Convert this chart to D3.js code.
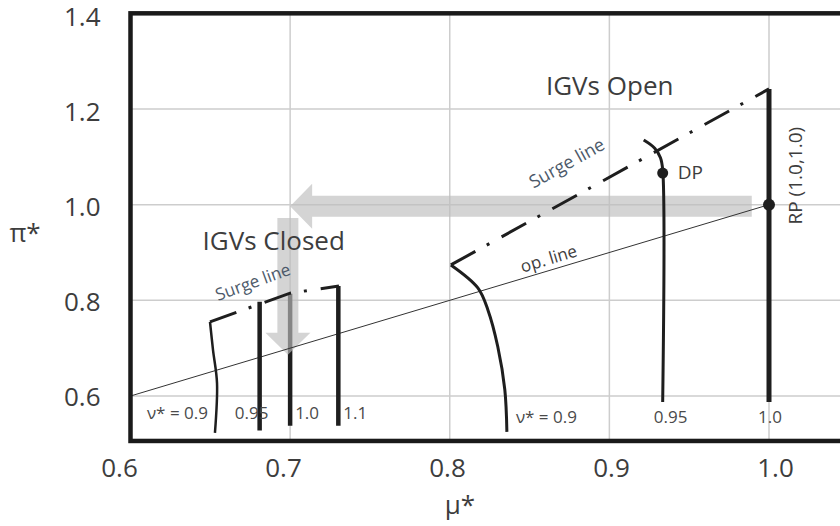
<!DOCTYPE html>
<html>
<head>
<meta charset="utf-8">
<script src="https://cdn.jsdelivr.net/npm/d3@7"></script>
<style>
  body { margin: 0; background: #fff; }
  svg { display: block; font-family: "Open Sans", sans-serif; }
</style>
</head>
<body>
<script>
// axis ticks
var muTicks = [0.6, 0.7, 0.8, 0.9, 1.0];
var piTicks = [0.6, 0.8, 1.0, 1.2, 1.4];

// operating line, from origin corner to the rated point
var opLine = [[0.6, 0.6], [1.0, 1.0]];

// IGVs open: surge line and speed lines (mu*, pi*)
var surgeOpen = [[0.8007, 0.874], [1.0, 1.242]];
var openSpeed090 = [[0.8007, 0.874], [0.8176, 0.826], [0.8239, 0.780], [0.8301, 0.703], [0.8345, 0.613], [0.8358, 0.525]];
var openSpeed095 = [[0.9215, 1.135], [0.9284, 1.118], [0.932, 1.098], [0.9334, 1.073], [0.9334, 0.5875]];
var openSpeed100 = [[1.0, 1.242], [1.0, 0.5875]];
var openLabels = ["ν* = 0.9", "0.95", "1.0"];

// IGVs closed
var surgeClosed = [[0.6498, 0.755], [0.70, 0.815], [0.7306, 0.830]];
var closedSpeed090 = [[0.6498, 0.755], [0.6517, 0.696], [0.6542, 0.627], [0.6529, 0.523]];
var closedSpeed095 = [[0.6809, 0.797], [0.6809, 0.528]];
var closedSpeed100 = [[0.70, 0.814], [0.70, 0.538]];
var closedSpeed110 = [[0.7302, 0.830], [0.7302, 0.538]];
var closedLabels = ["ν* = 0.9", "0.95", "1.0", "1.1"];

// design point and rated point
var designPoint = [0.9334, 1.066];
var ratedPoint = [1.0, 1.0];

// big grey arrows: rated point -> IGVs closed
var arrowLeft = [[0.9892, 0.9966], [0.70, 0.9966]];
var arrowDown = [[0.6986, 0.972], [0.6986, 0.686]];

var W = 840, H = 526, ink = "#3d3d3d";

var svg = d3.select("body").append("svg")
    .attr("width", W)
    .attr("height", H);

var x = d3.scaleLinear().domain([0.6, 1.0]).range([130.5, 769]);
var y = d3.scaleLinear().domain([0.6, 1.2]).range([396, 109]);
// the printed tick labels sit a little off the grid
var xLab = d3.scaleLinear().domain([0.6, 1.0]).range([119, 775]);
var yLab = d3.scaleLinear().domain([0.6, 1.4]).range([397, 17]);

var xMax = 1.06, yMin = 0.506;

var line = d3.line()
    .x(function(d) { return x(d[0]); })
    .y(function(d) { return y(d[1]); })
    .curve(d3.curveCatmullRom.alpha(0.5));

function drawLine(data, width, dash) {
    var p = svg.append("path")
        .attr("d", line(data))
        .attr("fill", "none")
        .attr("stroke", "#1e1e1e")
        .attr("stroke-width", width);
    if (dash) p.attr("stroke-dasharray", dash);
    return p;
}

// arrow polygon, shaft + head, from a to b in pixel space
function arrowPath(a, b) {
    var x0 = x(a[0]), y0 = y(a[1]), x1 = x(b[0]), y1 = y(b[1]);
    var len = Math.hypot(x1 - x0, y1 - y0);
    var ux = (x1 - x0) / len, uy = (y1 - y0) / len;
    var nx = -uy, ny = ux;
    var sw = 10.5, hw = 22.5, hl = 22;
    var bx = x1 - ux * hl, by = y1 - uy * hl;
    var pts = [
        [x0 + nx * sw, y0 + ny * sw],
        [bx + nx * sw, by + ny * sw],
        [bx + nx * hw, by + ny * hw],
        [x1, y1],
        [bx - nx * hw, by - ny * hw],
        [bx - nx * sw, by - ny * sw],
        [x0 - nx * sw, y0 - ny * sw]
    ];
    return "M" + pts.map(function(p) { return p.join(","); }).join("L") + "Z";
}

// grid
svg.append("g").selectAll("line")
    .data(muTicks.slice(1))
    .enter().append("line")
    .attr("x1", function(d) { return x(d); })
    .attr("x2", function(d) { return x(d); })
    .attr("y1", y(1.4))
    .attr("y2", y(yMin))
    .attr("stroke", "#cdcdcd")
    .attr("stroke-width", 1.5);

svg.append("g").selectAll("line")
    .data(piTicks.slice(0, -1))
    .enter().append("line")
    .attr("x1", x(0.6))
    .attr("x2", x(xMax))
    .attr("y1", function(d) { return y(d); })
    .attr("y2", function(d) { return y(d); })
    .attr("stroke", "#cdcdcd")
    .attr("stroke-width", 1.5);

// horizontal arrow sits under the curves
svg.append("path")
    .attr("d", arrowPath(arrowLeft[0], arrowLeft[1]))
    .attr("fill", "#bdbdbd")
    .attr("opacity", 0.65);

drawLine(closedSpeed100, 4.5);

svg.append("path")
    .attr("d", arrowPath(arrowDown[0], arrowDown[1]))
    .attr("fill", "#bdbdbd")
    .attr("opacity", 0.65);

// operating line
svg.append("path")
    .attr("d", line(opLine))
    .attr("fill", "none")
    .attr("stroke", "#333")
    .attr("stroke-width", 1);

// speed lines
drawLine(openSpeed090, 3);
drawLine(openSpeed095, 3);
drawLine(openSpeed100, 5);
drawLine(closedSpeed090, 2.5);
drawLine(closedSpeed095, 4.5);
drawLine(closedSpeed110, 4.5);

// surge lines, dash-dot
drawLine(surgeOpen, 3, "28,13,3,14");
svg.append("path")
    .attr("d", d3.line().x(function(d) { return x(d[0]); }).y(function(d) { return y(d[1]); })(surgeClosed))
    .attr("fill", "none")
    .attr("stroke", "#1e1e1e")
    .attr("stroke-width", 3)
    .attr("stroke-dasharray", "28,13,3,14");

// points
svg.append("circle")
    .attr("cx", x(designPoint[0]))
    .attr("cy", y(designPoint[1]))
    .attr("r", 5.5)
    .attr("fill", "#1e1e1e");
svg.append("circle")
    .attr("cx", x(ratedPoint[0]))
    .attr("cy", y(ratedPoint[1]))
    .attr("r", 6)
    .attr("fill", "#1e1e1e");

// frame
svg.append("rect")
    .attr("x", x(0.6))
    .attr("y", y(1.4))
    .attr("width", x(xMax) - x(0.6))
    .attr("height", y(yMin) - y(1.4))
    .attr("fill", "none")
    .attr("stroke", "#1a1a1a")
    .attr("stroke-width", 4.5);

// axes
var fmt = d3.format(".1f");
var yAxis = svg.append("g")
    .attr("transform", "translate(" + x(0.6) + ",0)")
    .call(d3.axisLeft(yLab).tickValues(piTicks).tickFormat(fmt).tickSize(0).tickPadding(30));
var xAxis = svg.append("g")
    .attr("transform", "translate(0," + y(yMin) + ")")
    .call(d3.axisBottom(xLab).tickValues(muTicks).tickFormat(fmt).tickSize(0).tickPadding(18));
[yAxis, xAxis].forEach(function(g) {
    g.select(".domain").remove();
    g.selectAll("text")
        .attr("fill", ink)
        .style("font-family", "'Open Sans', sans-serif")
        .style("font-size", "26px");
});

svg.append("text")
    .attr("x", 460).attr("y", 514)
    .attr("text-anchor", "middle")
    .attr("fill", ink)
    .style("font-size", "26px")
    .text("μ*");
svg.append("text")
    .attr("x", 25).attr("y", 242)
    .attr("text-anchor", "middle")
    .attr("fill", ink)
    .style("font-size", "26px")
    .text("π*");

// titles
svg.append("text")
    .attr("x", x(0.9002)).attr("y", y(1.2293))
    .attr("text-anchor", "middle")
    .attr("fill", ink)
    .style("font-size", "26px")
    .text("IGVs Open");
svg.append("text")
    .attr("x", x(0.6897)).attr("y", y(0.9052))
    .attr("text-anchor", "middle")
    .attr("fill", ink)
    .style("font-size", "26px")
    .text("IGVs Closed");

// rotated labels along lines
function angleOf(pts) {
    var a = pts[0], b = pts[pts.length - 1];
    return Math.atan2(y(b[1]) - y(a[1]), x(b[0]) - x(a[0])) * 180 / Math.PI;
}
function slantLabel(txt, at, ang, size, col) {
    svg.append("text")
        .attr("transform", "translate(" + x(at[0]) + "," + y(at[1]) + ") rotate(" + ang + ")")
        .attr("text-anchor", "middle")
        .attr("dy", "0.35em")
        .attr("fill", col)
        .style("font-size", size + "px")
        .text(txt);
}
slantLabel("Surge line", [0.8733, 1.087], angleOf(surgeOpen), 18, "#4d5a6a");
slantLabel("Surge line", [0.6767, 0.8383], -20, 17, "#4d5a6a");
slantLabel("op. line", [0.862, 0.887], angleOf(opLine), 17, ink);

svg.append("text")
    .attr("x", x(designPoint[0]) + 15)
    .attr("y", y(designPoint[1]) + 6)
    .attr("fill", ink)
    .style("font-size", "19px")
    .text("DP");
svg.append("text")
    .attr("transform", "translate(" + (x(ratedPoint[0]) + 33) + "," + (y(ratedPoint[1]) - 29) + ") rotate(-90)")
    .attr("text-anchor", "middle")
    .attr("fill", ink)
    .style("font-size", "19px")
    .text("RP (1.0,1.0)");

// speed labels at the foot of each line
var openFeet = [openSpeed090, openSpeed095, openSpeed100];
var openDx = [9, 8, 1], openAnchor = ["start", "middle", "middle"];
svg.append("g").selectAll("text")
    .data(openLabels)
    .enter().append("text")
    .attr("x", function(d, i) { var p = openFeet[i]; return x(p[p.length - 1][0]) + openDx[i]; })
    .attr("y", y(0.5435))
    .attr("text-anchor", function(d, i) { return openAnchor[i]; })
    .attr("fill", "#4a4a4a")
    .style("font-size", "17px")
    .text(function(d) { return d; });

var closedFeet = [closedSpeed090, closedSpeed095, closedSpeed100, closedSpeed110];
var closedDx = [-7, -8, 5, 5], closedAnchor = ["end", "middle", "start", "start"];
svg.append("g").selectAll("text")
    .data(closedLabels)
    .enter().append("text")
    .attr("x", function(d, i) { var p = closedFeet[i]; return x(p[p.length - 1][0]) + closedDx[i]; })
    .attr("y", y(0.552))
    .attr("text-anchor", function(d, i) { return closedAnchor[i]; })
    .attr("fill", "#4a4a4a")
    .style("font-size", "17px")
    .text(function(d) { return d; });
</script>
</body>
</html>
